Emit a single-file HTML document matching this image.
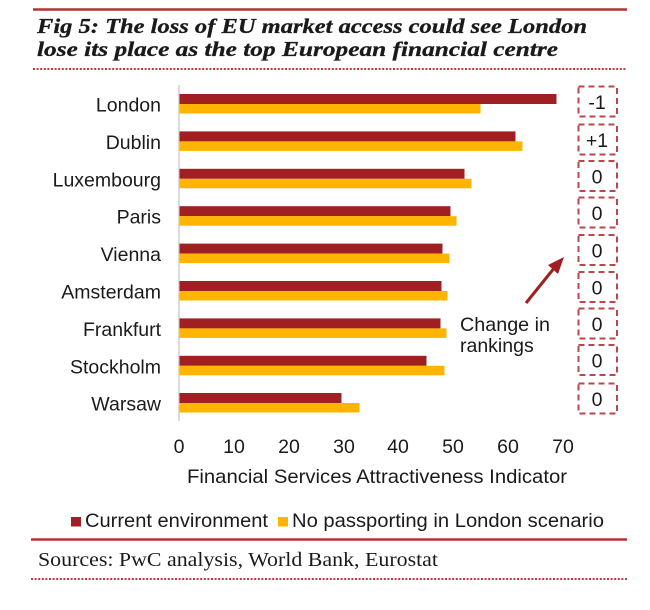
<!DOCTYPE html>
<html><head><meta charset="utf-8"><style>
html,body{margin:0;padding:0;background:#fff;}
svg{display:block;}
</style></head><body>
<svg width="650" height="610" viewBox="0 0 650 610" xmlns="http://www.w3.org/2000/svg">
<rect width="650" height="610" fill="#fff"/>
<!-- header -->
<line x1="33" y1="9.5" x2="627" y2="9.5" stroke="#b83235" stroke-width="2.5"/>
<g font-family="Liberation Serif, serif" font-weight="bold" font-style="italic" font-size="21" fill="#1a1a1a" stroke="#1a1a1a" stroke-width="0.3">
<text x="37" y="33" textLength="550" lengthAdjust="spacingAndGlyphs">Fig 5: The loss of EU market access could see London</text>
<text x="37" y="56" textLength="521" lengthAdjust="spacingAndGlyphs">lose its place as the top European financial centre</text>
</g>
<line x1="33" y1="69" x2="627" y2="69" stroke="#c0393c" stroke-width="2" stroke-dasharray="2 1.6"/>

<!-- axis line -->
<line x1="179" y1="85" x2="179" y2="421" stroke="#cfcfcf" stroke-width="1.5"/>

<!-- bars -->
<g>
<rect x="179.5" y="94" width="377" height="10" fill="#a01f22"/>
<rect x="179.5" y="104" width="301" height="9.5" fill="#ffb400"/>
<rect x="179.5" y="131.4" width="336" height="10" fill="#a01f22"/>
<rect x="179.5" y="141.4" width="343" height="9.5" fill="#ffb400"/>
<rect x="179.5" y="168.8" width="285" height="10" fill="#a01f22"/>
<rect x="179.5" y="178.8" width="292" height="9.5" fill="#ffb400"/>
<rect x="179.5" y="206.2" width="271" height="10" fill="#a01f22"/>
<rect x="179.5" y="216.2" width="277" height="9.5" fill="#ffb400"/>
<rect x="179.5" y="243.6" width="263" height="10" fill="#a01f22"/>
<rect x="179.5" y="253.6" width="270" height="9.5" fill="#ffb400"/>
<rect x="179.5" y="281" width="262" height="10" fill="#a01f22"/>
<rect x="179.5" y="291" width="268" height="9.5" fill="#ffb400"/>
<rect x="179.5" y="318.4" width="261" height="10" fill="#a01f22"/>
<rect x="179.5" y="328.4" width="267" height="9.5" fill="#ffb400"/>
<rect x="179.5" y="355.8" width="247" height="10" fill="#a01f22"/>
<rect x="179.5" y="365.8" width="265" height="9.5" fill="#ffb400"/>
<rect x="179.5" y="393" width="162" height="10" fill="#a01f22"/>
<rect x="179.5" y="403" width="180" height="9.5" fill="#ffb400"/>
</g>

<!-- category labels -->
<g font-family="Liberation Sans, sans-serif" font-size="19.5" fill="#1a1a1a" text-anchor="end">
<text x="161" y="111.5">London</text>
<text x="161" y="148.9">Dublin</text>
<text x="161" y="186.3">Luxembourg</text>
<text x="161" y="223.7">Paris</text>
<text x="161" y="261.1">Vienna</text>
<text x="161" y="298.5">Amsterdam</text>
<text x="161" y="335.9">Frankfurt</text>
<text x="161" y="373.3">Stockholm</text>
<text x="161" y="410.7">Warsaw</text>
</g>

<!-- ticks -->
<g font-family="Liberation Sans, sans-serif" font-size="19.5" fill="#1a1a1a" text-anchor="middle">
<text x="179" y="453">0</text>
<text x="234" y="453">10</text>
<text x="289" y="453">20</text>
<text x="344" y="453">30</text>
<text x="398" y="453">40</text>
<text x="453" y="453">50</text>
<text x="508" y="453">60</text>
<text x="563" y="453">70</text>
</g>
<text x="187" y="483" font-family="Liberation Sans, sans-serif" font-size="19.5" fill="#1a1a1a" textLength="380" lengthAdjust="spacingAndGlyphs">Financial Services Attractiveness Indicator</text>

<!-- ranking boxes -->
<g fill="none" stroke="#b9474b" stroke-width="2" stroke-dasharray="6 4">
<rect x="578.5" y="86.5" width="38.5" height="30"/>
<rect x="578.5" y="124.5" width="38.5" height="30"/>
<rect x="578.5" y="161" width="38.5" height="30"/>
<rect x="578.5" y="197.5" width="38.5" height="30"/>
<rect x="578.5" y="235" width="38.5" height="30"/>
<rect x="578.5" y="272" width="38.5" height="30"/>
<rect x="578.5" y="308.5" width="38.5" height="30"/>
<rect x="578.5" y="345" width="38.5" height="30"/>
<rect x="578.5" y="383.5" width="38.5" height="30"/>
</g>
<g font-family="Liberation Sans, sans-serif" font-size="19.5" fill="#1a1a1a" text-anchor="middle">
<text x="597" y="109">-1</text>
<text x="597" y="147">+1</text>
<text x="597" y="183.5">0</text>
<text x="597" y="220">0</text>
<text x="597" y="257.5">0</text>
<text x="597" y="294.5">0</text>
<text x="597" y="331">0</text>
<text x="597" y="367.5">0</text>
<text x="597" y="406">0</text>
</g>

<!-- arrow and annotation -->
<line x1="526" y1="303" x2="555" y2="267" stroke="#a01f22" stroke-width="3"/>
<polygon points="564,257 548,265 558,274" fill="#a01f22"/>
<g font-family="Liberation Sans, sans-serif" font-size="19.5" fill="#1a1a1a">
<text x="460" y="331" textLength="90" lengthAdjust="spacingAndGlyphs">Change in</text>
<text x="460" y="352">rankings</text>
</g>

<!-- legend -->
<rect x="71" y="517" width="10" height="9.5" fill="#a01f22"/>
<text x="85" y="527" font-family="Liberation Sans, sans-serif" font-size="19.5" fill="#1a1a1a" textLength="183" lengthAdjust="spacingAndGlyphs">Current environment</text>
<rect x="278" y="517" width="10" height="9.5" fill="#ffb400"/>
<text x="292" y="527" font-family="Liberation Sans, sans-serif" font-size="19.5" fill="#1a1a1a" textLength="312" lengthAdjust="spacingAndGlyphs">No passporting in London scenario</text>

<line x1="31" y1="539.5" x2="627" y2="539.5" stroke="#b83235" stroke-width="2.5"/>
<text x="38" y="566" font-family="Liberation Serif, serif" font-size="19.5" fill="#1a1a1a" textLength="400" lengthAdjust="spacingAndGlyphs">Sources: PwC analysis, World Bank, Eurostat</text>
<line x1="31" y1="579" x2="627" y2="579" stroke="#c0393c" stroke-width="2" stroke-dasharray="2 1.6"/>
</svg>
</body></html>
